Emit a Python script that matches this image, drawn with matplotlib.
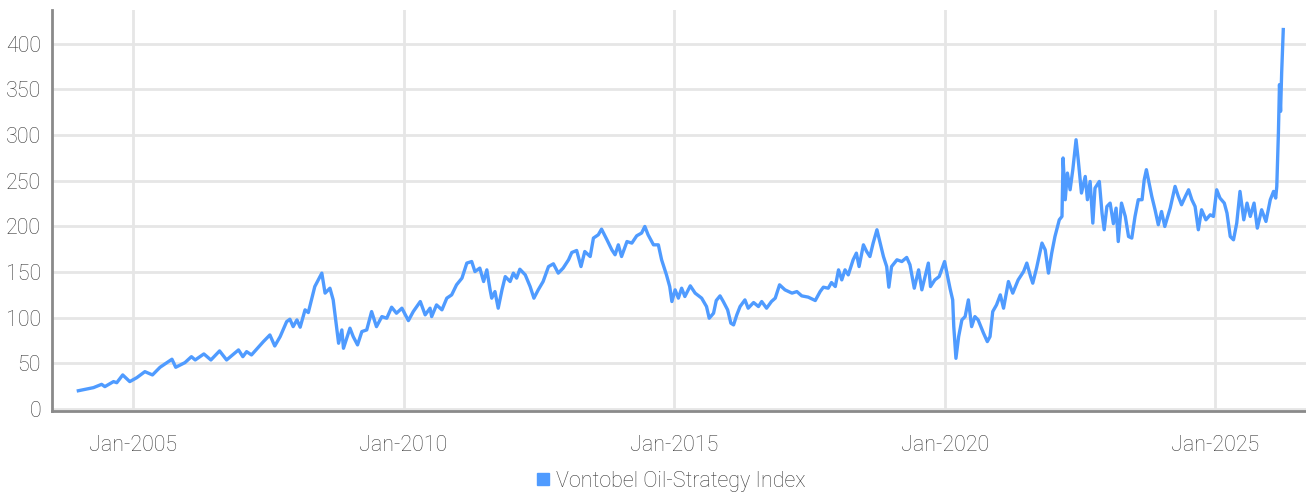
import numpy as np
import pandas as pd
import matplotlib
matplotlib.use('Agg')
import matplotlib.pyplot as plt
import matplotlib.dates as mdates
from matplotlib.lines import Line2D

# values (decimal year, index level)
years = [2003.99, 2004.27, 2004.42, 2004.48, 2004.64, 2004.70, 2004.81, 2004.94,
         2005.07, 2005.22, 2005.36, 2005.50, 2005.72, 2005.79, 2005.96, 2006.08,
         2006.15, 2006.31, 2006.44, 2006.60, 2006.73, 2006.95, 2007.03, 2007.10,
         2007.19, 2007.41, 2007.53, 2007.62, 2007.72, 2007.84, 2007.90, 2007.96,
         2008.03, 2008.09, 2008.18, 2008.24, 2008.36, 2008.49, 2008.55, 2008.64,
         2008.70, 2008.77, 2008.80, 2008.86, 2008.89, 2009.01, 2009.07, 2009.15,
         2009.23, 2009.32, 2009.41, 2009.50, 2009.60, 2009.69, 2009.78, 2009.87,
         2009.97, 2010.09, 2010.18, 2010.31, 2010.40, 2010.49, 2010.52, 2010.61,
         2010.71, 2010.80, 2010.89, 2010.98, 2011.08, 2011.17, 2011.26, 2011.32,
         2011.41, 2011.48, 2011.54, 2011.60, 2011.63, 2011.69, 2011.75, 2011.82,
         2011.88, 2011.97, 2012.03, 2012.09, 2012.15, 2012.25, 2012.34, 2012.41,
         2012.49, 2012.58, 2012.68, 2012.77, 2012.86, 2012.95, 2013.05, 2013.11,
         2013.20, 2013.28, 2013.35, 2013.45, 2013.51, 2013.60, 2013.66, 2013.76,
         2013.85, 2013.91, 2013.97, 2014.03, 2014.13, 2014.22, 2014.31, 2014.40,
         2014.46, 2014.52, 2014.62, 2014.71, 2014.77, 2014.86, 2014.92, 2014.96,
         2015.02, 2015.08, 2015.14, 2015.20, 2015.30, 2015.39, 2015.51, 2015.60,
         2015.65, 2015.73, 2015.78, 2015.85, 2015.91, 2015.99, 2016.05, 2016.10,
         2016.16, 2016.22, 2016.31, 2016.37, 2016.47, 2016.56, 2016.62, 2016.71,
         2016.80, 2016.87, 2016.95, 2017.05, 2017.18, 2017.27, 2017.36, 2017.48,
         2017.61, 2017.70, 2017.76, 2017.85, 2017.91, 2017.98, 2018.04, 2018.10,
         2018.16, 2018.22, 2018.31, 2018.37, 2018.42, 2018.50, 2018.56, 2018.62,
         2018.68, 2018.75, 2018.81, 2018.87, 2018.93, 2018.97, 2019.02, 2019.12,
         2019.21, 2019.30, 2019.36, 2019.44, 2019.52, 2019.58, 2019.64, 2019.70,
         2019.74, 2019.82, 2019.90, 2020.00, 2020.07, 2020.10, 2020.15, 2020.17,
         2020.21, 2020.26, 2020.32, 2020.38, 2020.44, 2020.50, 2020.56, 2020.62,
         2020.72, 2020.79, 2020.84, 2020.89, 2020.96, 2021.03, 2021.09, 2021.18,
         2021.26, 2021.36, 2021.46, 2021.52, 2021.59, 2021.63, 2021.70, 2021.80,
         2021.86, 2021.92, 2021.98, 2022.04, 2022.12, 2022.17, 2022.19, 2022.23,
         2022.27, 2022.32, 2022.37, 2022.43, 2022.47, 2022.53, 2022.60, 2022.64,
         2022.69, 2022.74, 2022.78, 2022.86, 2022.91, 2022.95, 2023.00, 2023.06,
         2023.12, 2023.17, 2023.21, 2023.27, 2023.34, 2023.40, 2023.46, 2023.52,
         2023.58, 2023.65, 2023.69, 2023.73, 2023.78, 2023.83, 2023.89, 2023.95,
         2024.01, 2024.07, 2024.17, 2024.26, 2024.32, 2024.38, 2024.45, 2024.51,
         2024.57, 2024.63, 2024.69, 2024.75, 2024.83, 2024.91, 2024.97, 2025.03,
         2025.09, 2025.17, 2025.22, 2025.28, 2025.34, 2025.40, 2025.46, 2025.53,
         2025.59, 2025.65, 2025.72, 2025.78, 2025.86, 2025.94, 2026.02, 2026.08,
         2026.12, 2026.14, 2026.17, 2026.19, 2026.21, 2026.23, 2026.26]

index_values = [20, 23.4, 27, 24.5, 30, 28.8, 37.3, 30,
                34.3, 40.9, 37.3, 45.7, 54.5, 45.7, 50.8, 57.3,
                53.7, 60.3, 53.7, 63.6, 53.7, 64.7, 57.3, 62.8,
                59.2, 73.8, 81.1, 69, 79.3, 95.7, 98.3, 90.2,
                97.6, 89.6, 108.6, 105.6, 134.1, 148.8, 126.9, 132.3,
                119.5, 86.6, 72, 86.6, 66.5, 88.5, 79.3, 70.2,
                84.8, 86.6, 106.7, 90.2, 101.2, 99.4, 111.5, 104.9,
                110.4, 96.8, 106.7, 117.7, 103.1, 110.4, 101.2, 114,
                108.6, 121.4, 125, 136, 143.3, 159.8, 161.5, 150.5,
                154.3, 139.6, 152.4, 130.5, 121.4, 128.6, 110.4, 130.5,
                145, 139.6, 148.8, 143.3, 153.1, 146.9, 134.1, 121.4,
                130.5, 139.6, 156, 159, 148.8, 154.3, 163.4, 171.4,
                173.6, 156, 172.5, 167, 187.2, 190.8, 197, 185.3,
                174.3, 168.9, 179.8, 167, 183.4, 181.7, 189.7, 192.7,
                199.9, 190.8, 179.8, 179.8, 163.4, 146.9, 134.1, 117.7,
                130.5, 121.4, 132.3, 123.2, 134.9, 126.9, 121.4, 112.2,
                99.4, 104.9, 118.8, 123.9, 117.7, 108.6, 94, 92.1,
                103.1, 112.2, 119.5, 110.4, 116.6, 112.2, 117.7, 110.4,
                117.7, 121.4, 136, 130.5, 126.9, 128.6, 123.9, 122.5,
                118.8, 128.6, 133.4, 132.3, 138.5, 134.1, 152.4, 141.4,
                152.4, 146.9, 163.4, 170.7, 156, 179.8, 172.5, 167,
                181.7, 196.3, 181.7, 167, 156, 133.4, 156, 163.4,
                161.5, 166, 158, 132.3, 152.4, 130.5, 145, 159.8,
                134.1, 141.4, 145, 161.5, 141.4, 132.3, 119.5, 90.2,
                55.5, 79.3, 97.6, 101.2, 119.5, 90.2, 101.2, 97.6,
                83, 73.8, 79.3, 106.7, 114, 125, 110.4, 139.6,
                126.9, 141.4, 150.5, 159.8, 145, 137.8, 154.3, 181.7,
                174.3, 148.8, 170.7, 188.9, 207.2, 210.9, 274.9, 229.2,
                258.4, 240.1, 262.1, 294.9, 273, 236.5, 254.7, 229.2,
                249.2, 203.6, 241.9, 249.2, 214.5, 196.3, 221.8, 225.5,
                203, 220, 183.4, 225.5, 210.9, 188.9, 187.2, 210.9,
                229.2, 229.2, 251.1, 262.1, 247.5, 232.8, 218.2, 201.8,
                216.3, 199.9, 220, 243.8, 232.8, 223.7, 232.8, 240.1,
                229.2, 221.8, 196.3, 218.2, 207.2, 212.7, 210.9, 240.1,
                231, 225.5, 214.5, 188.9, 185.3, 203.6, 238.3, 207.2,
                225.5, 210.9, 225.5, 198.1, 218.2, 205.4, 229.2, 238.3,
                231, 243.8, 302.3, 355.3, 326, 368, 415.6]

series_name = 'Vontobel Oil-Strategy Index'
y_ticks = [0, 50, 100, 150, 200, 250, 300, 350, 400]

def to_dates(yrs):
    yrs = np.asarray(yrs)
    return pd.Timestamp('2000-01-01') + pd.to_timedelta((yrs - 2000) * 365.25, unit='D')

dates = to_dates(years)

line_color = '#4f9bff'
text_color = '#3c3c3c'
grid_color = '#e6e6e6'

plt.rcParams['font.family'] = ['Roboto', 'DejaVu Sans']
plt.rcParams['font.weight'] = 'light'

fig = plt.figure(figsize=(13.06, 4.95), dpi=100)
ax = fig.add_axes([52 / 1306, 84 / 495, 1 - 52 / 1306, (411 - 10) / 495])

ax.plot(dates, index_values, color=line_color, linewidth=2.4,
        solid_joinstyle='round')

ax.set_xlim(to_dates([2003.503, 2026.68]))
ax.set_ylim(-2.2, 437)
ax.set_yticks(y_ticks)
ax.xaxis.set_major_locator(mdates.YearLocator(5))
ax.xaxis.set_major_formatter(mdates.DateFormatter('%b-%Y'))

ax.grid(True, color=grid_color, linewidth=2)
ax.set_axisbelow(True)
ax.tick_params(length=0, labelsize=15.5, colors=text_color)
ax.tick_params(axis='x', pad=17)
ax.tick_params(axis='y', pad=8)

for s in ['top', 'right']:
    ax.spines[s].set_visible(False)
for s in ['left', 'bottom']:
    ax.spines[s].set_color('#8a8a8a')
    ax.spines[s].set_linewidth(2)

handle = Line2D([], [], marker='s', linestyle='none', color=line_color,
                markersize=8)
fig.legend([handle], [series_name], loc='center',
           bbox_to_anchor=(669 / 1306, 1 - 481 / 495), frameon=False,
           fontsize=15.5, labelcolor=text_color, handletextpad=0.1,
           handlelength=1.0)

fig.savefig('out.png', dpi=100)
